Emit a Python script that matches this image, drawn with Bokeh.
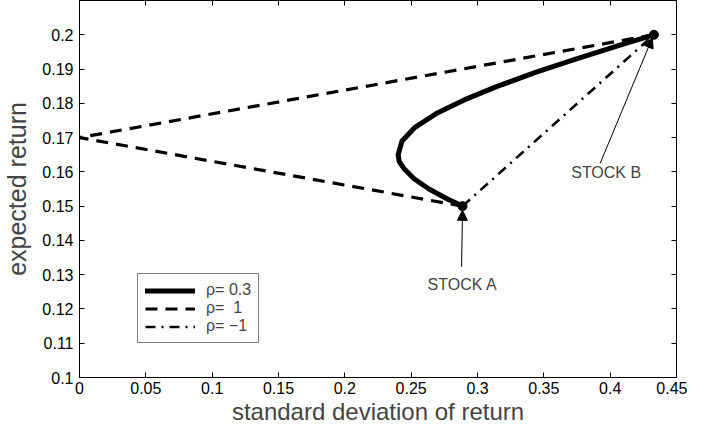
from bokeh.plotting import figure
from bokeh.models import (Range1d, FixedTicker, LinearAxis, Legend, LegendItem,
                          Arrow, NormalHead, Label)
from bokeh.embed import file_html
from bokeh.resources import INLINE

# ---- data ----
stock_names = ["STOCK A", "STOCK B"]
stock_sigma = [0.2887, 0.433]
stock_mu = [0.150, 0.200]

# rho = 0.3 curve (traced)
curve_sigma = [0.2887, 0.2777, 0.2634, 0.2522, 0.2445, 0.2410, 0.2402, 0.2431,
               0.2529, 0.2689, 0.2900, 0.3153, 0.3437, 0.3746, 0.4074, 0.4330]
curve_mu = [0.150, 0.152, 0.155, 0.158, 0.161, 0.163, 0.165, 0.169,
            0.173, 0.177, 0.181, 0.185, 0.189, 0.193, 0.197, 0.200]

# rho = 1 (dashed) : A -> zero-risk point -> B
dash_sigma = [0.2887, 0.0, 0.433]
dash_mu = [0.150, 0.170, 0.200]

# rho = -1 (dash-dot) : straight A -> B
dd_sigma = [0.2887, 0.433]
dd_mu = [0.150, 0.200]

# annotation arrows (tail points) and label positions
arrow_tail_sigma = [0.2880, 0.3925]
arrow_tail_mu = [0.1323, 0.1625]
label_sigma = [0.2887, 0.3970]
label_mu = [0.1272, 0.1598]

x_ticks = [0, 0.05, 0.1, 0.15, 0.2, 0.25, 0.3, 0.35, 0.4, 0.45]
x_tick_labels = ["0", "0.05", "0.1", "0.15", "0.2", "0.25", "0.3", "0.35", "0.4", "0.45"]
y_ticks = [0.1, 0.11, 0.12, 0.13, 0.14, 0.15, 0.16, 0.17, 0.18, 0.19, 0.2]
y_tick_labels = ["0.1", "0.11", "0.12", "0.13", "0.14", "0.15", "0.16", "0.17",
                 "0.18", "0.19", "0.2"]

legend_labels = ["\u03c1= 0.3", "\u03c1=  1", "\u03c1= \u22121"]

FONT = "Liberation Sans"

p = figure(width=687, height=427, output_backend="svg", toolbar_location=None,
           x_range=Range1d(0, 0.45), y_range=Range1d(0.1, 0.21),
           min_border_left=78, min_border_right=11, min_border_top=0,
           min_border_bottom=39, x_axis_location=None, y_axis_location=None)
p.grid.visible = False
p.outline_line_color = "black"
p.outline_line_width = 1
p.background_fill_color = "white"
p.border_fill_color = "white"

def style_axis(ax, ticks, labels, show_labels=True, standoff=5):
    ax.ticker = FixedTicker(ticks=ticks)
    ax.major_label_overrides = {t: l for t, l in zip(ticks, labels)}
    ax.major_tick_in = 5
    ax.major_tick_out = 0
    ax.minor_tick_in = 0
    ax.minor_tick_out = 0
    ax.axis_line_color = "black"
    ax.major_tick_line_color = "black"
    ax.major_label_text_font = FONT
    ax.major_label_text_font_size = "16px"
    ax.major_label_text_color = "black"
    ax.major_label_standoff = standoff
    if not show_labels:
        ax.major_label_text_alpha = 0
        ax.major_label_text_font_size = "1px"
        ax.major_label_standoff = 0

xb = LinearAxis(axis_label="standard deviation of return")
style_axis(xb, x_ticks, x_tick_labels, standoff=4)
xb.axis_label_text_font = FONT
xb.axis_label_text_font_size = "24px"
xb.axis_label_text_font_style = "normal"
xb.axis_label_standoff = 1
p.add_layout(xb, "below")

yl = LinearAxis(axis_label="expected return")
style_axis(yl, y_ticks, y_tick_labels, standoff=6)
yl.axis_label_text_font = FONT
yl.axis_label_text_font_size = "25px"
yl.axis_label_text_font_style = "normal"
yl.axis_label_standoff = 8
p.add_layout(yl, "left")

xt = LinearAxis()
style_axis(xt, x_ticks, x_tick_labels, show_labels=False)
p.add_layout(xt, "above")

yr = LinearAxis()
style_axis(yr, y_ticks, y_tick_labels, show_labels=False)
p.add_layout(yr, "right")

r1 = p.line(curve_sigma, curve_mu, line_color="black", line_width=5,
            line_join="round", line_cap="round")
r2 = p.line(dash_sigma, dash_mu, line_color="black", line_width=3.2,
            line_dash="12 8")
r3 = p.line(dd_sigma, dd_mu, line_color="black", line_width=2.6,
            line_dash="10 6 2 6")
p.scatter(stock_sigma, stock_mu, size=9, color="black")

legend = Legend(items=[LegendItem(label=legend_labels[0], renderers=[r1]),
                       LegendItem(label=legend_labels[1], renderers=[r2]),
                       LegendItem(label=legend_labels[2], renderers=[r3])],
                location=(58, 34))
legend.label_text_font = FONT
legend.label_text_font_size = "16px"
legend.label_standoff = 11
legend.glyph_width = 50
legend.glyph_height = 17
legend.label_height = 17
legend.spacing = 0
legend.padding = 7
legend.margin = 0
legend.border_line_color = "black"
legend.border_line_width = 1
legend.background_fill_alpha = 1
p.add_layout(legend, "center")

# annotations: arrows and labels
for i in range(2):
    p.add_layout(Arrow(end=NormalHead(size=10, fill_color="black", line_color="black"),
                       x_start=arrow_tail_sigma[i], y_start=arrow_tail_mu[i],
                       x_end=stock_sigma[i] - (0.0 if i == 0 else 0.0012),
                       y_end=stock_mu[i] - (0.0012 if i == 0 else 0.0009),
                       line_color="black", line_width=1))
    p.add_layout(Label(x=label_sigma[i], y=label_mu[i], text=stock_names[i],
                       text_font=FONT, text_font_size="16px", text_align="center",
                       text_baseline="middle"))

open("out.html", "w").write(file_html(p, INLINE))
